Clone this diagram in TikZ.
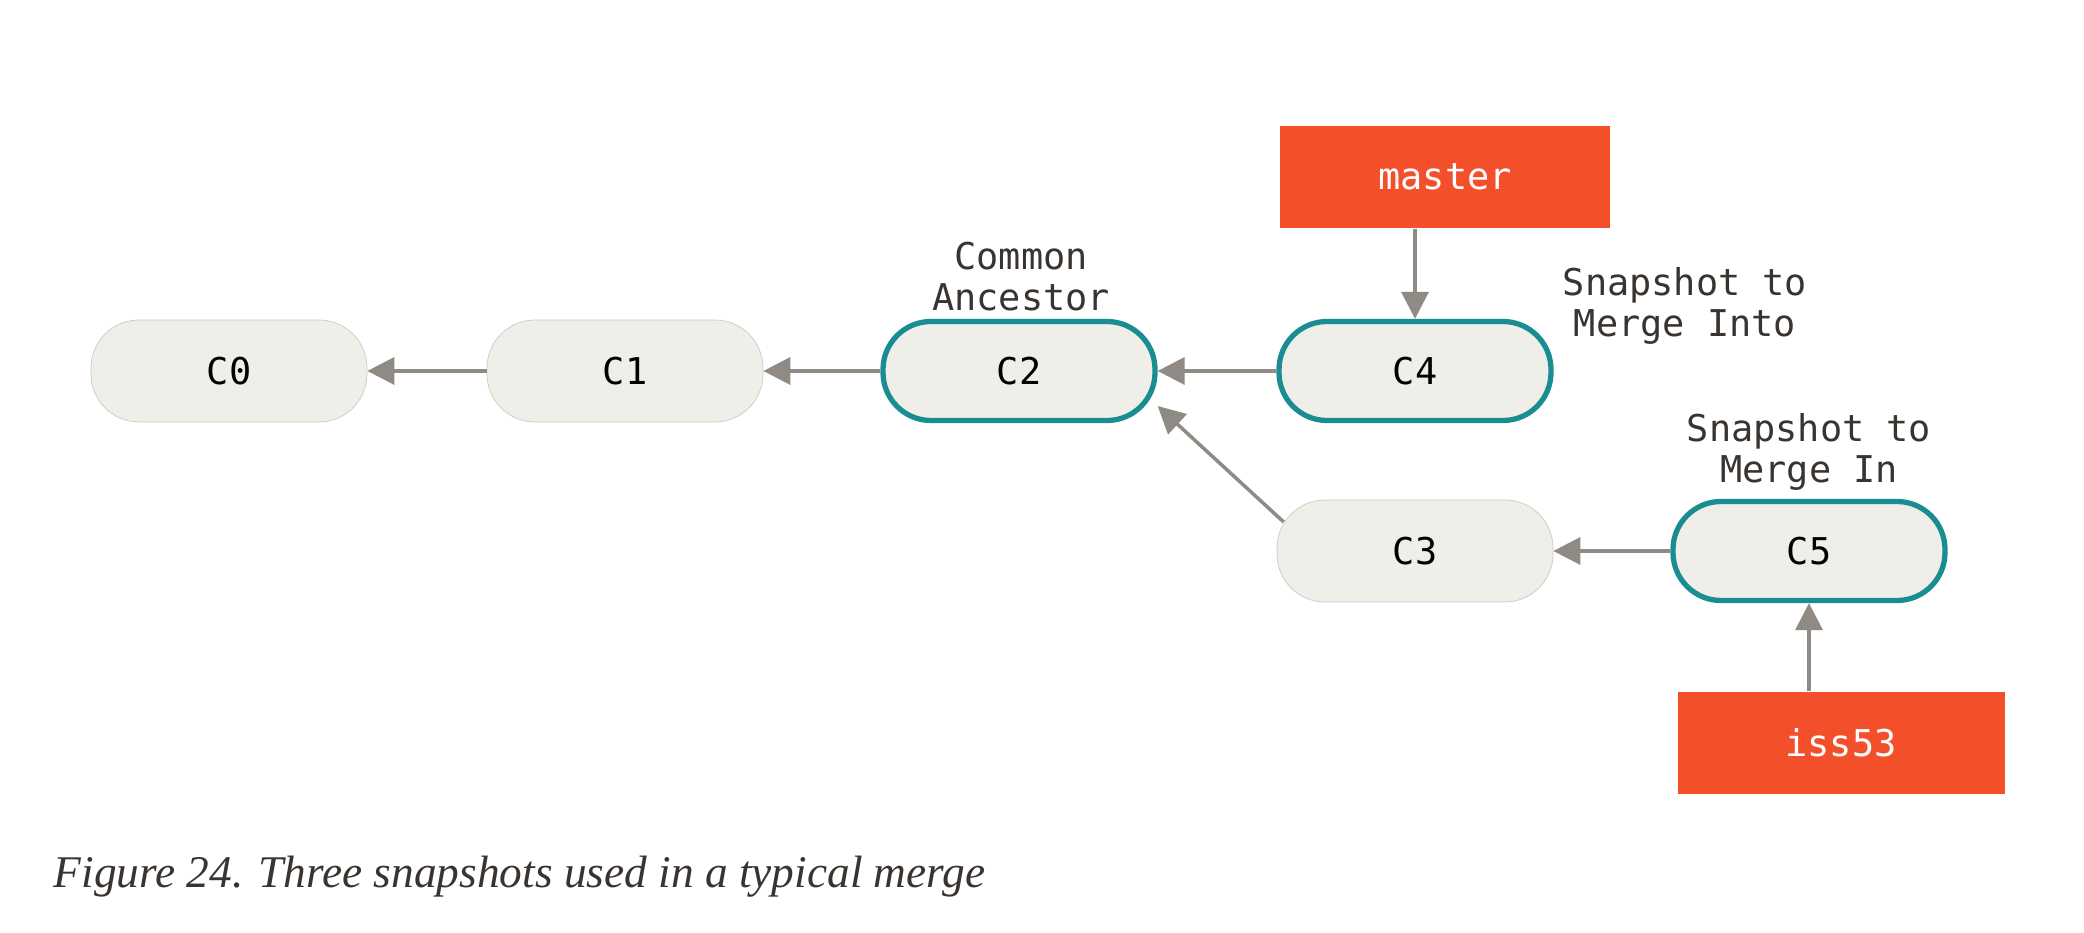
\documentclass[tikz,border=0pt]{standalone}
\usepackage{fontspec}
\setmainfont{Liberation Serif}
\setmonofont{DejaVu Sans Mono}
\usetikzlibrary{arrows.meta}
\definecolor{commitfill}{HTML}{EFEEE8}
\definecolor{commitline}{HTML}{1A8D93}
\definecolor{branchred}{HTML}{F34F2B}
\definecolor{arrowgray}{HTML}{8F8A84}
\definecolor{labelgray}{HTML}{3A3430}
\begin{document}
\begin{tikzpicture}
		\tikzset{commit/.style = {rectangle, rounded corners=0.48cm, fill=commitfill, draw=commitfill!85!black, line width=0.2pt, minimum width=2.76cm, minimum height=1.02cm, font=\ttfamily\fontsize{10.5}{12}\selectfont}}
		\tikzset{snapshot/.style = {commit, draw=commitline, line width=1.5pt, minimum width=2.72cm, minimum height=0.99cm}}
		\tikzset{branch/.style = {rectangle, fill=branchred, text=white, minimum width=3.3cm, minimum height=1.02cm, font=\ttfamily\fontsize{10.5}{12}\selectfont}}
		\tikzset{note/.style = {align=center, text=labelgray, font=\ttfamily\fontsize{10.5}{11.7}\selectfont}}
		\tikzset{edge/.style = {-{Triangle[length=2.7mm,width=2.7mm]}, draw=arrowgray, fill=arrowgray, line width=1pt}}
		\useasboundingbox (0,0) rectangle (20.84,9.32);
		\node[commit] (c0) at (2.29,5.61) {C0};
		\node[commit] (c1) at (6.25,5.61) {C1};
		\node[snapshot] (c2) at (10.19,5.61) {C2};
		\node[snapshot] (c4) at (14.15,5.61) {C4};
		\node[commit] (c3) at (14.15,3.81) {C3};
		\node[snapshot] (c5) at (18.09,3.81) {C5};
		\node[branch] (master) at (14.45,7.55) {master};
		\node[branch, minimum width=3.27cm] (iss53) at (18.41,1.89) {iss53};
		\node[note] (ancestor) at (10.21,6.55) {Common\\Ancestor};
		\node[note] (into) at (16.85,6.26) {Snapshot to\\Merge Into};
		\node[note] (in) at (18.09,4.80) {Snapshot to\\Merge In};
		\node[anchor=west, inner sep=0pt, text=labelgray, font=\itshape\fontsize{12.9}{15}\selectfont] (caption) at (0.53,0.55) {Figure 24. Three snapshots used in a typical merge};
		\draw[edge] (c1) -- (c0);
		\draw[edge] (c2) -- (c1);
		\draw[edge] (c4) -- (c2);
		\draw[edge] (c5) -- (c3);
		\draw[edge] ([xshift=0.07cm,yshift=0.29cm]c3.west) -- ([yshift=-0.35cm]c2.east);
		\draw[edge] (master.south -| c4.north) -- (c4.north);
		\draw[edge] (iss53.north -| c5.south) -- (c5.south);
	\end{tikzpicture}
\end{document}
